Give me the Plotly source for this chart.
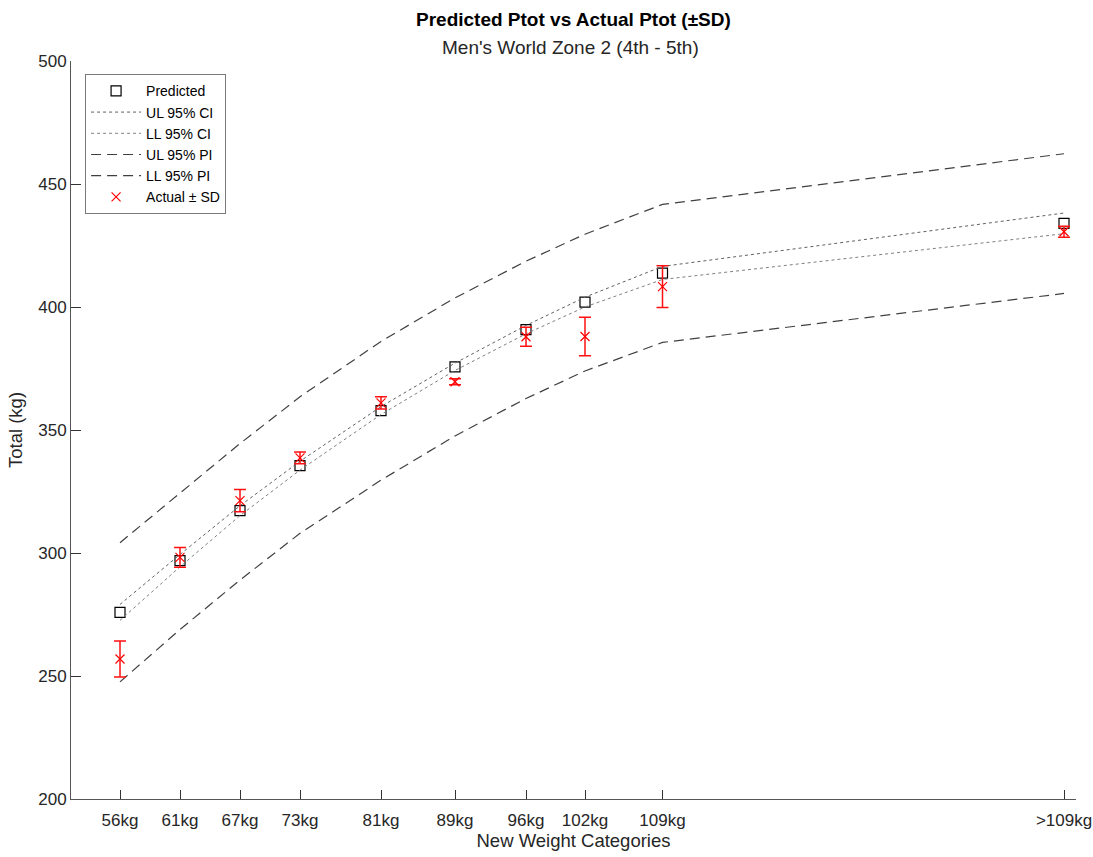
import plotly.graph_objects as go

# Data
categories = ["56kg", "61kg", "67kg", "73kg", "81kg", "89kg", "96kg", "102kg", "109kg", ">109kg"]
x_pos = [55, 61, 67, 73, 81.1, 88.5, 95.6, 101.5, 109.25, 149.4]
predicted = [275.9, 296.9, 317.2, 335.5, 357.9, 375.7, 390.8, 402.0, 413.8, 434.0]
ul_ci = [279.1, 299.4, 319.2, 337.3, 359.5, 377.2, 392.5, 404.0, 416.5, 438.2]
ll_ci = [272.6, 294.4, 315.2, 333.7, 356.3, 374.2, 389.1, 400.0, 411.2, 429.8]
ul_pi = [304.2, 324.2, 344.5, 363.5, 386.0, 403.7, 418.6, 429.6, 441.7, 462.3]
ll_pi = [247.6, 268.9, 289.0, 308.0, 329.6, 347.6, 362.8, 374.0, 385.6, 405.5]
actual = [256.9, 298.2, 321.3, 338.7, 361.0, 369.6, 387.9, 388.0, 408.3, 430.6]
actual_sd = [7.3, 4.0, 4.5, 2.4, 2.5, 1.2, 3.9, 7.8, 8.5, 2.2]

font_family = "Liberation Sans, Arial, sans-serif"
text_col = "#262626"

fig = go.Figure()

fig.add_trace(go.Scatter(
    x=x_pos, y=predicted, mode="markers", name="Predicted",
    marker=dict(symbol="square-open", size=10, color="#000000", line=dict(width=1.2)),
))
fig.add_trace(go.Scatter(
    x=x_pos, y=ul_ci, mode="lines", name="UL 95% CI",
    line=dict(color="#606060", width=1, dash="dot"),
))
fig.add_trace(go.Scatter(
    x=x_pos, y=ll_ci, mode="lines", name="LL 95% CI",
    line=dict(color="#808080", width=1, dash="dot"),
))
fig.add_trace(go.Scatter(
    x=x_pos, y=ul_pi, mode="lines", name="UL 95% PI",
    line=dict(color="#404040", width=1.2, dash="10px,6px"),
))
fig.add_trace(go.Scatter(
    x=x_pos, y=ll_pi, mode="lines", name="LL 95% PI",
    line=dict(color="#404040", width=1.2, dash="10px,6px"),
))
fig.add_trace(go.Scatter(
    x=x_pos, y=actual, mode="markers", name="Actual ± SD",
    marker=dict(symbol="x-thin-open", size=9, color="#ff0000", line=dict(width=1.2, color="#ff0000")),
    error_y=dict(type="data", array=actual_sd, visible=True, color="#ff1010", thickness=1.5, width=6),
))

plot_h = 857 - 61 - 58

fig.update_layout(
    width=1093, height=857,
    margin=dict(l=71, r=17, t=61, b=58, autoexpand=False),
    paper_bgcolor="white", plot_bgcolor="white",
    font=dict(family=font_family, size=17, color=text_col),
    showlegend=True,
    legend=dict(
        x=0.014, y=0.982, xanchor="left", yanchor="top",
        bgcolor="white", bordercolor="#7a7a7a", borderwidth=1,
        font=dict(size=14, color="#000000"),
        tracegroupgap=0, itemwidth=50,
    ),
    annotations=[
        dict(text="<b>Predicted Ptot vs Actual Ptot (±SD)</b>", x=0.5, y=1 + (61 - 20) / plot_h,
             xref="paper", yref="paper", yanchor="middle", showarrow=False,
             font=dict(size=19, color="#000000")),
        dict(text="Men's World Zone 2 (4th - 5th)", x=0.497, y=1 + (61 - 47) / plot_h,
             xref="paper", yref="paper", yanchor="middle", showarrow=False,
             font=dict(size=19, color=text_col)),
    ],
)

fig.update_xaxes(
    range=[50.1, 150.6], tickvals=x_pos, ticktext=categories, automargin=False,
    showgrid=False, zeroline=False, showline=True, linecolor="#555555", linewidth=1,
    ticks="inside", ticklen=9, tickcolor="#333333", tickwidth=1, ticklabelstandoff=6,
    title=dict(text="New Weight Categories", font=dict(size=18.5, color=text_col), standoff=4),
    tickfont=dict(size=17, color=text_col),
)
fig.update_yaxes(
    range=[200, 500], tickvals=[200, 250, 300, 350, 400, 450, 500], automargin=False,
    showgrid=False, zeroline=False, showline=True, linecolor="#555555", linewidth=1,
    ticks="inside", ticklen=10, tickcolor="#333333", tickwidth=1,
    title=dict(text="Total (kg)", font=dict(size=18.5, color=text_col), standoff=10),
    tickfont=dict(size=17, color=text_col),
)

fig.write_html("out.html")
